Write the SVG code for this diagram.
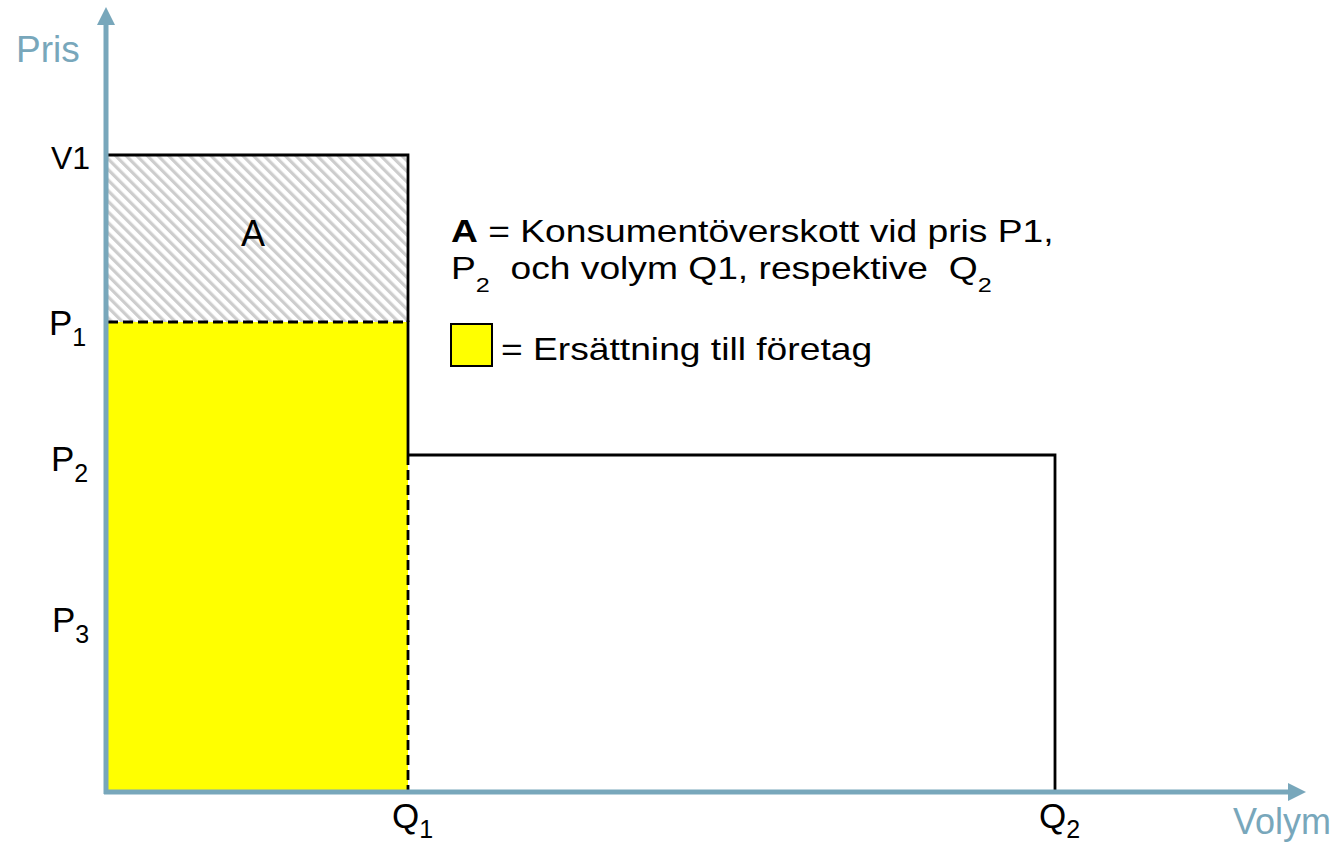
<svg xmlns="http://www.w3.org/2000/svg" width="1337" height="846" viewBox="0 0 1337 846">
<style>
text{font-family:"Liberation Sans",Arial,sans-serif;fill:#000}
.ax{fill:#78a7bb}
.axis{stroke:#78a7bb;stroke-width:5;fill:none}
.blk{stroke:#000;stroke-width:2.8;fill:none}
.dash{stroke:#000;stroke-width:2.8;fill:none;stroke-dasharray:10 5}
.lbl{font-size:35px}
.sub{font-size:25px}
.leg{font-size:31px}
</style>
<defs>
<pattern id="hatch" patternUnits="userSpaceOnUse" width="7.5" height="7.5" patternTransform="rotate(-45)">
<rect width="7.5" height="7.5" fill="#fff"/>
<rect x="0" y="0" width="3.2" height="7.5" fill="#cdcdcd"/>
</pattern>
</defs>
<rect width="1337" height="846" fill="#fff"/>
<g id="area-A">
<rect x="108" y="155" width="300" height="167" fill="url(#hatch)"/>
<polyline class="blk" points="108,155 408,155 408,322"/>
<text x="253" y="246" font-size="36" text-anchor="middle">A</text>
</g>
<g id="area-yellow">
<rect x="108" y="322" width="300" height="468" fill="#ffff00"/>
<line class="dash" x1="108" y1="322" x2="408" y2="322"/>
<line class="blk" x1="408" y1="320.6" x2="408" y2="455"/>
<line class="dash" x1="408" y1="455" x2="408" y2="790"/>
</g>
<g id="area-Q2">
<polyline class="blk" points="408,455 1055,455 1055,790"/>
</g>
<g id="axes">
<line class="axis" x1="106" y1="794" x2="106" y2="22"/>
<polygon class="ax" points="106,7 97,25 115,25"/>
<line class="axis" x1="104" y1="792" x2="1290" y2="792"/>
<polygon class="ax" points="1306,792 1288,783 1288,801"/>
<text class="ax" x="16" y="62" font-size="37">Pris</text>
<text class="ax" x="1233" y="834" font-size="36">Volym</text>
</g>
<g id="labels">
<text x="51" y="169" font-size="32">V1</text>
<text class="lbl" x="49" y="335">P<tspan class="sub" dy="11">1</tspan></text>
<text class="lbl" x="51" y="471">P<tspan class="sub" dy="11">2</tspan></text>
<text class="lbl" x="52" y="632">P<tspan class="sub" dy="11">3</tspan></text>
<text class="lbl" x="392" y="828">Q<tspan class="sub" dy="10">1</tspan></text>
<text class="lbl" x="1039" y="828">Q<tspan class="sub" dy="10">2</tspan></text>
</g>
<g id="legend">
<text class="leg" x="451" y="242" transform="translate(451,0) scale(1.2,1) translate(-451,0)"><tspan font-weight="bold">A</tspan> = Konsumentöverskott vid pris P1,</text>
<text class="leg" x="451" y="279" xml:space="preserve" transform="translate(451,0) scale(1.2,1) translate(-451,0)">P<tspan font-size="21" dy="13">2</tspan><tspan dy="-13">  och volym Q1, respektive  Q</tspan><tspan font-size="21" dy="13">2</tspan></text>
<rect x="451" y="324" width="41" height="42" fill="#ffff00" stroke="#000" stroke-width="2"/>
<text class="leg" x="501" y="360" transform="translate(501,0) scale(1.2,1) translate(-501,0)">= Ersättning till företag</text>
</g>
</svg>
